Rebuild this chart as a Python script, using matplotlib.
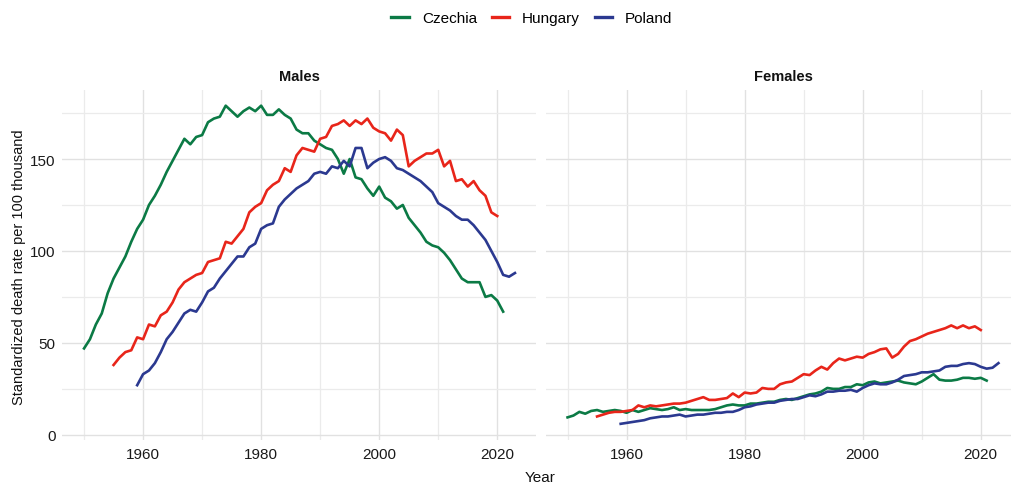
import numpy as np
import matplotlib
matplotlib.use("Agg")
import matplotlib.pyplot as plt
from matplotlib.lines import Line2D

plt.rcParams['font.family'] = ['Liberation Sans', 'DejaVu Sans']

countries = ["Czechia", "Hungary", "Poland"]
colors = {"Czechia": "#0B7A45", "Hungary": "#E8251A", "Poland": "#2B3990"}
start_year = {"Czechia": 1950, "Hungary": 1955, "Poland": 1959}

males_czechia = [
    47, 52, 60, 66, 77, 85, 91, 97, 105, 112,
    117, 125, 130, 136, 143, 149, 155, 161, 158, 162,
    163, 170, 172, 173, 179, 176, 173, 176, 178, 176,
    179, 174, 174, 177, 174, 172, 166, 164, 164, 160,
    158, 156, 155, 150, 142, 150, 140, 139, 134, 130,
    135, 129, 127, 123, 125, 118, 114, 110, 105, 103,
    102, 99, 95, 90, 85, 83, 83, 83, 75, 76,
    73, 67,
]
males_hungary = [
    38, 42, 45, 46, 53,
    52, 60, 59, 65, 67, 72, 79, 83, 85, 87,
    88, 94, 95, 96, 105, 104, 108, 112, 121, 124,
    126, 133, 136, 138, 145, 143, 152, 156, 155, 154,
    161, 162, 168, 169, 171, 168, 171, 169, 172, 167,
    165, 164, 160, 166, 163, 146, 149, 151, 153, 153,
    155, 146, 149, 138, 139, 135, 138, 133, 130, 121,
    119,
]
males_poland = [
    27,
    33, 35, 39, 45, 52, 56, 61, 66, 68, 67,
    72, 78, 80, 85, 89, 93, 97, 97, 102, 104,
    112, 114, 115, 124, 128, 131, 134, 136, 138, 142,
    143, 142, 146, 145, 149, 146, 156, 156, 145, 148,
    150, 151, 149, 145, 144, 142, 140, 138, 135, 132,
    126, 124, 122, 119, 117, 117, 114, 110, 106, 100,
    94, 87, 86, 88,
]

females_czechia = [
    9.5, 10.5, 12.5, 11.5, 13, 13.5, 12.5, 13, 13.5, 13,
    12, 13.5, 12.5, 13.5, 14.5, 14, 13.5, 14, 15, 13.5,
    14, 13.5, 13.5, 13.5, 13.5, 14, 15, 16, 16.5, 16,
    16, 17, 17, 17.5, 18, 18, 19, 19.5, 19, 20,
    21, 22, 22.5, 23.5, 25.5, 25, 25, 26, 26, 27.5,
    27, 28.5, 29, 28, 28.5, 29, 29.5, 28.5, 28, 27.5,
    29, 31, 33, 30, 29.5, 29.5, 30, 31, 31, 30.5,
    31, 29.5,
]
females_hungary = [
    10, 11, 12, 12.5, 12.5,
    13, 13.5, 16, 15, 16, 15.5, 16, 16.5, 17, 17,
    17.5, 18.5, 19.5, 20.5, 19, 19, 19.5, 20, 22.5, 20.5,
    23, 22.5, 23, 25.5, 25, 25, 27.5, 28.5, 29, 31,
    33, 32.5, 35, 37, 35.5, 39, 41.5, 40.5, 41.5, 42.5,
    42, 44, 45, 46.5, 47, 42, 44, 48, 51, 52,
    53.5, 55, 56, 57, 58, 59.5, 58, 59.5, 58, 59,
    57,
]
females_poland = [
    6,
    6.5, 7, 7.5, 8, 9, 9.5, 10, 10, 10.5, 11,
    10, 10.5, 11, 11, 11.5, 12, 12, 12.5, 12.5, 13.5,
    15, 15.5, 16.5, 17, 17.5, 17.5, 18.5, 19, 19.5, 19.5,
    20.5, 21.5, 21, 22, 23.5, 23.5, 24, 24, 24.5, 23.5,
    25.5, 27, 28, 27.5, 27.5, 28.5, 30, 32, 32.5, 33,
    34, 34, 34.5, 35, 37, 37.5, 37.5, 38.5, 39, 38.5,
    37, 36, 36.5, 39,
]

panels = {
    "Males": {"Czechia": males_czechia, "Hungary": males_hungary, "Poland": males_poland},
    "Females": {"Czechia": females_czechia, "Hungary": females_hungary, "Poland": females_poland},
}

W, H = 1012, 485
fig = plt.figure(figsize=(W / 100, H / 100), dpi=100)

ax_w = 474 / W
ax_b = 1 - 441 / H
ax_h = 350.5 / H
ax_left = fig.add_axes([62.5 / W, ax_b, ax_w, ax_h])
ax_right = fig.add_axes([546 / W, ax_b, ax_w, ax_h])

grid_major = "#E1E1E1"
grid_minor = "#EBEBEB"

for ax, (title, series) in zip([ax_left, ax_right], panels.items()):
    for c in countries:
        vals = series[c]
        years = np.arange(start_year[c], start_year[c] + len(vals))
        ax.plot(years, vals, color=colors[c], lw=1.9, solid_joinstyle="round", zorder=3)
    ax.set_xlim(1946.35, 2026.65)
    ax.set_ylim(-2.8, 187.8)
    ax.set_xticks([1960, 1980, 2000, 2020])
    ax.set_xticks([1950, 1970, 1990, 2010], minor=True)
    ax.set_yticks([0, 50, 100, 150])
    ax.set_yticks([25, 75, 125, 175], minor=True)
    ax.grid(which="major", color=grid_major, lw=1.0, zorder=0)
    ax.grid(which="minor", color=grid_minor, lw=0.9, zorder=0)
    for s in ax.spines.values():
        s.set_visible(False)
    ax.tick_params(which="both", length=0, labelsize=11, colors="#1A1A1A", pad=5)
    ax.set_title(title, fontsize=10.5, fontweight="bold", pad=7, color="#111111")

ax_right.tick_params(labelleft=False)

ax_left.set_ylabel("Standardized death rate per 100 thousand", fontsize=10.5, color="#111111")
ax_left.yaxis.set_label_coords(-0.077, 0.497)
fig.text(540 / W, 1 - 478 / H, "Year", ha="center", va="center", fontsize=11, color="#111111")

handles = [Line2D([0], [0], color=colors[c], lw=2.4) for c in countries]
fig.legend(handles, countries, loc="center", bbox_to_anchor=(532 / W, 1 - 19 / H),
           ncol=3, frameon=False, fontsize=11, handlelength=1.15, handletextpad=0.85,
           columnspacing=0.95)

fig.savefig("out.png", dpi=100, facecolor="white")
